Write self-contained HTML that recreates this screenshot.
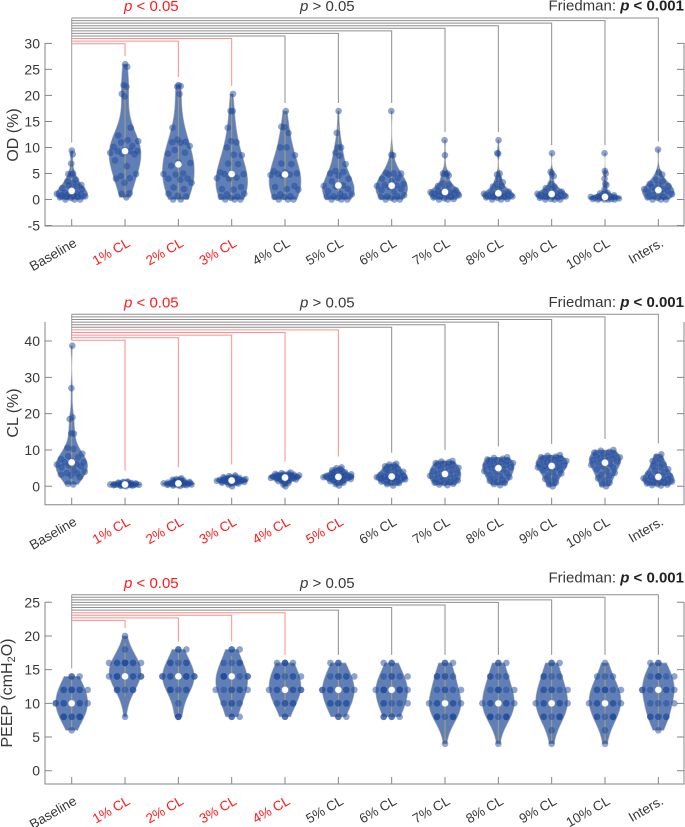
<!DOCTYPE html>
<html lang="en">
<head>
<meta charset="utf-8">
<title>Violin plots of OD, CL and PEEP by CL level</title>
<style>
html,body{margin:0;padding:0;background:#fff;}
body{width:685px;height:827px;overflow:hidden;}
svg{display:block;font-family:"Liberation Sans",Arial,sans-serif;filter:blur(0.3px);}
</style>
</head>
<body>
<svg id="chart" xmlns="http://www.w3.org/2000/svg" width="685" height="827" viewBox="0 0 685 827"></svg>
<script>
const categories = ["Baseline","1% CL","2% CL","3% CL","4% CL","5% CL","6% CL","7% CL","8% CL","9% CL","10% CL","Inters."];

const odTicks = [-5,0,5,10,15,20,25,30];
const clTicks = [0,10,20,30,40];
const peepTicks = [0,5,10,15,20,25];

const odSignificantCount = 3;
const clSignificantCount = 5;
const peepSignificantCount = 4;

const odValues = [
 [0,0,0,0.3,0.4,0.5,0.5,0.6,0.7,0.8,1,1,1.1,1.2,1.3,2,2,2.2,2.5,2.7,2.8,3.2,3.5,3.8,4.8,4.9,5,6.9,8.7,9.4],
 [0.4,1.1,1.2,3.2,4,4.1,4.5,4.9,6.4,7.5,8.7,8.8,9,9.3,9.3,9.3,9.5,10.1,10.3,11,11.2,11.4,12.3,13.8,19.8,20.3,21.7,22,25.5,26],
 [0,0,0.6,0.7,1.1,2,2.3,3.2,3.8,4,4,4.8,4.9,5,6.5,7,7.1,8.8,9,9.5,10.3,10.9,11,11.1,11.5,13.8,20.3,21.7,21.8,22],
 [0,0,0,0.3,0.5,0.6,1,1.1,1.9,2,2.4,4,4.1,4.2,4.9,4.9,5,5.2,6.8,6.9,8.5,8.6,10,11,11.2,13.8,17,17,20.3],
 [0,0,0,0.5,0.5,0.6,1,1.9,2,2.4,2.6,4.6,4.7,4.8,4.9,5,5.2,5.4,6.8,6.9,8.5,10,10,12.8,13.9,14,17],
 [0,0,0,0.3,0.5,0.6,0.6,1,1.1,1.6,2,2.5,2.6,2.7,3.5,4,4.6,5,5.3,5.5,6.8,8.4,9,10,10,12.8,17],
 [0,0,0,0.3,0.5,0.6,0.6,0.8,1.5,1.8,2,2.4,2.6,2.7,2.8,3,3.5,4,4.1,4.8,5,5,5.1,8.5,8.6,17],
 [0,0,0.1,0.2,0.4,0.5,0.6,0.8,1,1.1,1.2,1.3,1.4,1.5,1.6,1.8,2,2.6,2.8,3.1,4.6,4.9,5,5,8.5,11.4],
 [0,0,0.1,0.3,0.4,0.5,0.5,0.6,0.7,0.8,0.9,1,1.1,1.2,1.3,1.5,2,2.5,2.6,3,3.3,4,4.8,5,8.8,8.9,11.4],
 [0,0,0,0.1,0.3,0.4,0.5,0.6,0.7,0.8,0.9,1,1.1,1.2,1.3,1.5,2,2.2,2.5,3,4.5,5,5.3,8.9],
 [0,0,0,0,0.1,0.1,0.2,0.2,0.3,0.3,0.4,0.4,0.5,0.5,0.6,0.8,1,1.2,1.3,2,2.8,3,4,5,5.5,8.9],
 [0,0,0,0.3,0.4,0.5,0.8,1,1.2,1.4,1.6,1.8,2,2,2.4,2.6,2.8,3,3.5,3.8,4.8,5.2,9.6]
];

const clValues = [
 [0.5,0.7,2.5,3,3.2,3.5,3.6,4,4.5,5.2,5.5,5.8,6,6.2,6.6,6.6,7,7.5,8,8.3,9,10.3,10.6,14.5,14.6,18.5,19,27,38.7],
 [0,0.1,0.2,0.2,0.3,0.3,0.3,0.4,0.4,0.4,0.4,0.4,0.5,0.5,0.5,0.6,0.6,0.6,0.7,0.7,0.8,0.8,0.9,0.9,1,1,1.1,1.2,1.3],
 [0.1,0.2,0.3,0.3,0.4,0.4,0.5,0.5,0.6,0.6,0.7,0.7,0.8,0.8,0.8,0.9,0.9,1,1,1.1,1.2,1.3,1.5,1.6,1.7,1.8,1.9,2,2.2],
 [0,0.5,0.8,0.9,1,1,1.1,1.2,1.2,1.3,1.4,1.4,1.5,1.6,1.6,1.7,1.8,1.8,1.9,2,2,2.1,2.2,2.3,2.4,2.5,2.6,2.8,3],
 [0,0.5,0.9,1.2,1.4,1.5,1.7,1.9,2,2.1,2.2,2.3,2.3,2.4,2.4,2.5,2.6,2.7,2.8,2.9,3,3,3.1,3.2,3.3,3.4,3.5,3.6,3.8],
 [0.2,0.6,1,1.2,1.4,1.6,1.8,2,2.2,2.3,2.4,2.4,2.5,2.6,2.6,2.7,2.8,2.9,3,3.1,3.3,3.5,3.7,3.9,4.1,4.4,4.7,5,5.2],
 [0.2,0.6,0.9,1.1,1.3,1.5,1.7,1.9,2.1,2.2,2.3,2.4,2.5,2.6,2.7,2.8,3,3.2,3.5,3.7,4,4.3,4.6,4.9,5.2,5.5,5.8,6,6.2],
 [0.3,0.5,0.7,0.9,1,1.2,1.4,1.6,1.8,2,2.3,2.6,2.9,3.2,3.4,3.6,3.9,4.2,4.5,4.8,5.1,5.4,5.7,6,6.2,6.4,6.6,6.8,7],
 [0.3,0.6,0.9,1.2,1.5,1.8,2.1,2.5,2.9,3.2,3.6,3.9,4.2,4.6,5,5.2,5.5,5.7,5.9,6.1,6.4,6.6,6.8,7,7.2,7.4,7.6,7.8,8],
 [0,0.5,1,1.5,2,2.5,3,3.5,4,4.4,4.7,5,5.2,5.4,5.6,5.8,6,6.2,6.5,6.7,7,7.2,7.4,7.6,7.8,8,8.2,8.4,8.6],
 [0,0.5,1,1.6,2.2,2.8,3.2,3.7,4.2,4.7,5.2,5.5,5.9,6.2,6.5,6.8,7,7.3,7.6,7.8,8,8.2,8.4,8.7,9,9.3,9.5,9.8,10],
 [0.2,0.3,0.5,0.6,0.8,1,1.1,1.3,1.5,1.7,1.9,2,2.2,2.4,2.6,2.9,3.2,3.5,3.9,4.3,4.7,5.2,5.6,6,6.5,7,7.5,8.2,8.8]
];

const peepValues = [
 [6,8,8,8,8,8,8,8,8,10,10,10,10,10,10,10,10,10,12,12,12,12,12,12,12,12,14,14,14],
 [8,12,12,12,12,12,14,14,14,14,14,14,14,14,14,14,16,16,16,16,16,16,16,16,16,16,18,20],
 [8,8,8,10,12,12,12,12,12,12,14,14,14,14,14,14,14,14,14,14,14,14,16,16,16,16,16,18,18,18],
 [8,8,8,10,10,10,10,12,12,12,12,12,12,12,14,14,14,14,14,14,14,14,14,16,16,16,16,18,18,18],
 [8,8,10,10,10,10,10,12,12,12,12,12,12,12,12,12,12,14,14,14,14,14,14,14,16,16,16,16,16],
 [8,8,8,10,10,10,10,10,10,12,12,12,12,12,12,12,12,12,14,14,14,14,14,14,16,16,16],
 [8,8,8,8,8,10,10,10,10,10,12,12,12,12,12,12,12,12,12,12,14,14,14,14,14,16,16,16],
 [4,8,8,8,8,8,8,8,10,10,10,10,10,10,10,10,10,12,12,12,12,12,14,14,14,14,14,16,16,16],
 [4,8,8,8,8,8,8,8,10,10,10,10,10,10,10,10,12,12,12,12,12,12,14,14,14,14,16,16,16],
 [4,6,8,8,8,8,8,8,10,10,10,10,10,10,10,10,12,12,12,12,12,12,14,14,14,14,16,16,16],
 [4,6,8,8,8,8,8,8,10,10,10,10,10,10,10,10,12,12,12,12,12,12,12,14,14,14,16],
 [6,8,8,8,8,8,8,10,10,10,10,12,12,12,12,12,12,12,12,14,14,14,14,14,14,16,16,16]
];

const svgNS = "http://www.w3.org/2000/svg";
const chart = document.getElementById("chart");
const LEFT = 45, RIGHT = 684, X0 = 71.7, XSTEP = 53.33, HALF_W = 16;
const GRAY = "#858585", TEXT = "#383838", RED = "#ff1a1a";

function make(parent, tag, attrs, text){
  const e = document.createElementNS(svgNS, tag);
  for (const k in attrs) e.setAttribute(k, attrs[k]);
  if (text !== undefined) e.textContent = text;
  parent.appendChild(e);
  return e;
}
function xPos(i){ return X0 + XSTEP * i; }
function linScale(v0, y0, v1, y1){ return v => y0 + (v - v0) * (y1 - y0) / (v1 - v0); }
function quantile(s, q){
  const p = (s.length - 1) * q, lo = Math.floor(p), hi = Math.ceil(p);
  return s[lo] + (s[hi] - s[lo]) * (p - lo);
}
function bandwidth(s, factor){
  const med = quantile(s, .5);
  const dev = s.map(v => Math.abs(v - med)).sort((a,b) => a - b);
  const mad = quantile(dev, .5) || 0.5;
  return factor * (mad / 0.6745) * Math.pow(4 / (3 * s.length), 0.2);
}
function density(s, h, v){
  let t = 0;
  for (const a of s) { const z = (v - a) / h; t += Math.exp(-0.5 * z * z); }
  return t;
}

function drawPanel(cfg){
  const g = make(chart, "g", {});
  
  
  const y = linScale(cfg.v0, cfg.y0, cfg.v1, cfg.y1);

  // axes
  const axes = make(g, "g", {fill:"none", stroke:GRAY, "stroke-width":1});
  
  
  const box = make(axes, "path", {d:`M${LEFT} ${cfg.axisTop}V${cfg.axisBottom}H${RIGHT}V${cfg.axisTop}`});
  
  

  cfg.ticks.forEach(t => {
    const py = y(t);
    const tm = make(axes, "path", {d:`M${LEFT} ${py}h7M${RIGHT} ${py}h-7`});
    
    
    const lab = make(g, "text", {x:40, y:py + 5, "text-anchor":"end", "font-size":14, fill:TEXT}, String(t));
    
    
  });

  // x ticks and labels
  categories.forEach((c, i) => {
    const px = xPos(i);
    const tm = make(axes, "path", {d:`M${px} ${cfg.axisBottom}v-7`});
    
    
    const bx = px + 6, by = cfg.axisBottom + 19.5;
    const lab = make(g, "text", {x:bx, y:by, "text-anchor":"end", "font-size":13.5,
      fill:(i > 0 && i <= cfg.sig) ? RED : TEXT, transform:`rotate(-30 ${bx} ${by})`}, c);
    
    
  });

  // significance brackets
  const n = categories.length;
  const lowestY = cfg.bracketTop + (n - 2) * cfg.bracketStep;
  const baseEnd = y(Math.max(...cfg.values[0])) - cfg.gap;
  const baseLine = make(g, "path", {d:`M${X0} ${cfg.bracketTop}V${Math.max(baseEnd, lowestY)}`, fill:"none", stroke:"#9a9a9a", "stroke-width":1});
  
  
  for (let i = n - 1; i >= 1; i--) {
    const ly = cfg.bracketTop + (n - 1 - i) * cfg.bracketStep;
    const end = y(Math.max(...cfg.values[i])) - cfg.gap;
    const br = make(g, "path", {d:`M${X0} ${ly}H${xPos(i)}V${end}`, fill:"none",
      stroke:i <= cfg.sig ? "#ff8c8c" : "#8e8e8e", "stroke-width":1});
    
    
  }

  // violins
  cfg.values.forEach((vals, i) => {
    const sorted = vals.slice().sort((a,b) => a - b);
    const lo = sorted[0], hi = sorted[sorted.length - 1];
    const h = bandwidth(sorted, cfg.bw);
    const px = xPos(i);
    let peak = 0;
    const grid = [];
    for (let k = 0; k <= 60; k++) {
      const v = lo + (hi - lo) * k / 60;
      const d = density(sorted, h, v);
      grid.push([v, d]);
      if (d > peak) peak = d;
    }
    const widthAt = v => HALF_W * Math.pow(density(sorted, h, v) / peak, cfg.power);
    const vg = make(g, "g", {});
    
    

    const right = grid.map(p => `${(px + widthAt(p[0])).toFixed(2)} ${y(p[0]).toFixed(2)}`);
    const left = grid.slice().reverse().map(p => `${(px - widthAt(p[0])).toFixed(2)} ${y(p[0]).toFixed(2)}`);
    const shape = make(vg, "path", {d:"M" + right.concat(left).join("L") + "Z", fill:"#5f7fb6", stroke:"#b4b4b4", "stroke-width":0.6});
    
    

    const q1 = quantile(sorted, .25), q3 = quantile(sorted, .75), iqr = q3 - q1;
    const wLo = Math.max(lo, q1 - 1.5 * iqr), wHi = Math.min(hi, q3 + 1.5 * iqr);
    const whisk = make(vg, "line", {x1:px, x2:px, y1:y(wLo), y2:y(wHi), stroke:"#a89f7c", "stroke-width":1});
    
    

    vals.forEach((v, k) => {
      const w = widthAt(v);
      const frac = ((k + 1) * 0.618034) % 1;
      let off = (frac * 2 - 1) * w;
      if (cfg.snap) off = Math.round(off / cfg.snap) * cfg.snap;
      const dot = make(vg, "circle", {cx:(px + off).toFixed(2), cy:y(v).toFixed(2), r:3.3, fill:"#1f4a9c", "fill-opacity":0.5});
      
      
    });

    const med = make(vg, "circle", {cx:px, cy:y(quantile(sorted, .5)), r:3.4, fill:"#fff", stroke:"#9a9a9a", "stroke-width":0.4});
    
    
  });

  // annotations
  const red = make(g, "text", {x:124, y:cfg.pY, "font-size":15, fill:RED});
  
  
  make(red, "tspan", {"font-style":"italic"}, "p");
  make(red, "tspan", {}, " < 0.05");
  const gray = make(g, "text", {x:300, y:cfg.pY, "font-size":15, fill:TEXT});
  
  
  make(gray, "tspan", {"font-style":"italic"}, "p");
  make(gray, "tspan", {}, " > 0.05");
  const fr = make(g, "text", {x:684, y:cfg.fY, "text-anchor":"end", "font-size":15, fill:TEXT});
  
  
  make(fr, "tspan", {}, "Friedman: ");
  make(fr, "tspan", {"font-weight":"bold", "font-style":"italic", fill:"#222"}, "p");
  make(fr, "tspan", {"font-weight":"bold", fill:"#222"}, " < 0.001");

  // y-axis title
  const yt = make(g, "text", {x:cfg.titleX, y:cfg.titleY, "text-anchor":"middle", "font-size":16, fill:TEXT,
    transform:`rotate(-90 ${cfg.titleX} ${cfg.titleY})`});
  
  
  if (cfg.sub) {
    make(yt, "tspan", {}, "PEEP (cmH");
    make(yt, "tspan", {dy:3, "font-size":11}, "2");
    make(yt, "tspan", {dy:-3}, "O)");
  } else {
    yt.textContent = cfg.title;
  }
}

drawPanel({key:"od", title:"OD (%)", values:odValues, ticks:odTicks, sig:odSignificantCount, bw:1.3, power:1.25, snap:0,
  v0:0, y0:199.5, v1:30, y1:43.4, axisTop:43, axisBottom:226,
  bracketTop:18, bracketStep:2.57, gap:8, pY:11, fY:10.7, titleX:18, titleY:135});
drawPanel({key:"cl", title:"CL (%)", values:clValues, ticks:clTicks, sig:clSignificantCount, bw:1.2, power:1.1, snap:0,
  v0:0, y0:486.3, v1:40, y1:341, axisTop:322, axisBottom:504.7,
  bracketTop:314.3, bracketStep:2.6, gap:11, pY:307.7, fY:307, titleX:18, titleY:413});
drawPanel({key:"peep", title:"PEEP", sub:true, values:peepValues, ticks:peepTicks, sig:peepSignificantCount, bw:1.25, power:1, snap:8,
  v0:0, y0:770.7, v1:25, y1:602.3, axisTop:602, axisBottom:784,
  bracketTop:594.7, bracketStep:2.57, gap:8, pY:588, fY:582.7, titleX:12, titleY:693});
</script>
</body>
</html>
